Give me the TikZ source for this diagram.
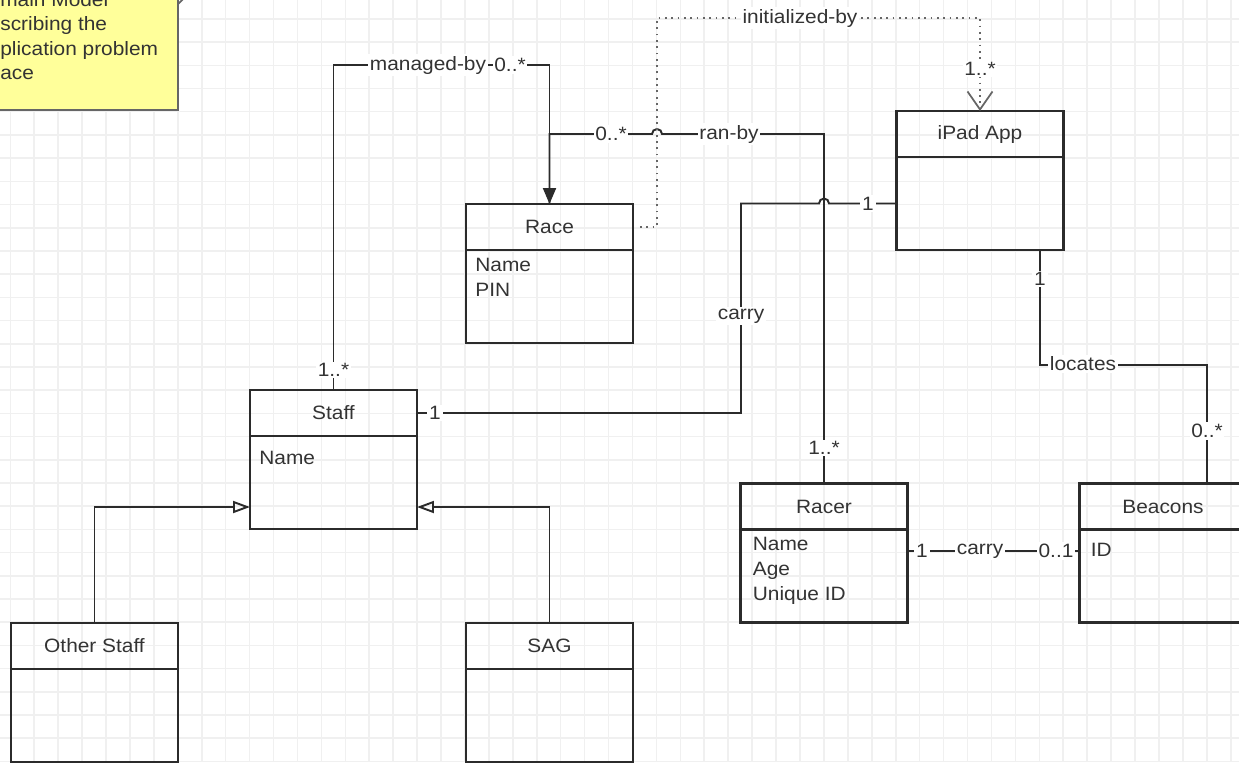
\documentclass[tikz,border=0pt]{standalone}
\usepackage{fontspec}
\setmainfont{Liberation Sans}[FakeStretch=1.08]
\usetikzlibrary{arrows.meta,positioning}
\definecolor{linec}{HTML}{2B2B2B}
\definecolor{textc}{HTML}{333333}
\definecolor{gridc}{HTML}{F0F0F0}
\definecolor{notec}{HTML}{FFFF9A}

\begin{document}
\begin{tikzpicture}[x=0.02cm, y=-0.02cm,
  font=\fontsize{11}{13}\selectfont,
  classhead/.style={draw=linec, line width=1.4pt, minimum width=3.34cm, minimum height=0.92cm, inner sep=0pt, outer sep=0pt, text=textc},
  classbody/.style={draw=linec, line width=1.4pt, minimum width=3.34cm, minimum height=1.86cm, inner sep=0pt, outer sep=0pt},
  attr/.style={anchor=north west, align=left, inner sep=0pt, text=textc, font=\fontsize{11}{14.2}\selectfont},
  conn/.style={draw=linec, line width=1.1pt},
  dotc/.style={draw=black!60, line width=1pt, dash pattern=on 1pt off 2.6pt},
  gen/.style={conn, -{Triangle[open, length=0.34cm, width=0.24cm]}},
  lbl/.style={fill=white, inner sep=1pt, text=textc}]

  \useasboundingbox (0,0) rectangle (1239,762);
  \clip (0,0) rectangle (1239,762);

  % grid
  \foreach \gx in {0,...,51}
    \draw[gridc, line width=0.9pt] ({10.3+23.93*\gx},0) -- ({10.3+23.93*\gx},762);
  \foreach \gy in {0,...,32}
    \draw[gridc, line width=0.9pt] (0,{18.9+23.2*\gy}) -- (1239,{18.9+23.2*\gy});

  % note
  \draw[fill=notec, draw=black!60, line width=1pt] (-20,-30) rectangle (178,110);
  \draw[black!60, line width=1pt] (178,4) -- (184,-2);
  \node[anchor=north west, align=left, inner sep=0pt, text=textc, font=\fontsize{11}{13.9}\selectfont] (note) at (0,-8) {main Model\\scribing the\\plication problem\\ace};

  % classes
  \node[classhead] (race) at (549.5,227) {Race};
  \node[classbody, below=0pt of race] (racebody) {};
  \node[attr] at ([shift={(9,8)}]racebody.north west) {Name\\PIN};

  \node[classhead] (ipad) at (980,134) {iPad App};
  \node[classbody, below=0pt of ipad] (ipadbody) {};

  \node[classhead] (staff) at (333.5,413) {Staff};
  \node[classbody, below=0pt of staff] (staffbody) {};
  \node[attr] at ([shift={(9,15)}]staffbody.north west) {Name};

  \node[classhead] (racer) at (824,506.5) {Racer};
  \node[classbody, below=0pt of racer] (racerbody) {};
  \node[attr] at ([shift={(12,7)}]racerbody.north west) {Name\\Age\\Unique ID};

  \node[classhead] (beacons) at (1163,506.5) {Beacons};
  \node[classbody, below=0pt of beacons] (beaconsbody) {};
  \node[attr] at ([shift={(11,13)}]beaconsbody.north west) {ID};

  \node[classhead] (other) at (94.5,646) {Other Staff};
  \node[classbody, below=0pt of other] (otherbody) {};

  \node[classhead] (sag) at (549.5,646) {SAG};
  \node[classbody, below=0pt of sag] (sagbody) {};

  % managed-by
  \draw[conn, -{Triangle[length=0.32cm, width=0.26cm]}] (staff.north) |- (race.north |- 0,65) -- (race.north);
  \node[lbl] at (428,65) {managed-by};
  \node[lbl] at (510,65) {0..*};
  \node[lbl] at (333.5,370) {1..*};

  % ran-by
  \draw[conn] (racer.north) |- (662,134) arc (360:180:5) -- (race.north |- 0,134) -- (race.north);
  \node[lbl] at (611,134) {0..*};
  \node[lbl] at (729,134) {ran-by};
  \node[lbl] at (824,448) {1..*};

  % initialized-by
  \draw[dotc, -{Straight Barb[length=0.36cm, width=0.5cm]}] ([shift={(7,0)}]race.east) -| (657,18) -| (ipad.north);
  \node[lbl] at (800,18) {initialized-by};
  \node[lbl] at (980,69) {1..*};

  % carry: Staff - iPad App
  \draw[conn] (staff.east) -| (741,203.5) -- (819,203.5) arc (180:360:5) -- (ipadbody.west);
  \node[lbl] at (435,413) {1};
  \node[lbl] at (741,316) {carry};
  \node[lbl] at (868,203.5) {1};

  % locates
  \draw[conn] ([shift={(60,0)}]ipadbody.south) |- (1207,365) -- ([shift={(44,0)}]beacons.north);
  \node[lbl] at (1040,279) {1};
  \node[lbl] at (1083,364) {locates};
  \node[lbl] at (1207,431) {0..*};

  % carry: Racer - Beacons
  \draw[conn] (racerbody.east |- 0,551) -- (beaconsbody.west |- 0,551);
  \node[lbl] at (922,551) {1};
  \node[lbl] at (980,551) {carry};
  \node[lbl] at (1056,551) {0..1};

  % generalization
  \draw[gen] (other.north) |- (staffbody.west |- 0,507);
  \draw[gen] (sag.north) |- (staffbody.east |- 0,507);
\end{tikzpicture}
\end{document}
